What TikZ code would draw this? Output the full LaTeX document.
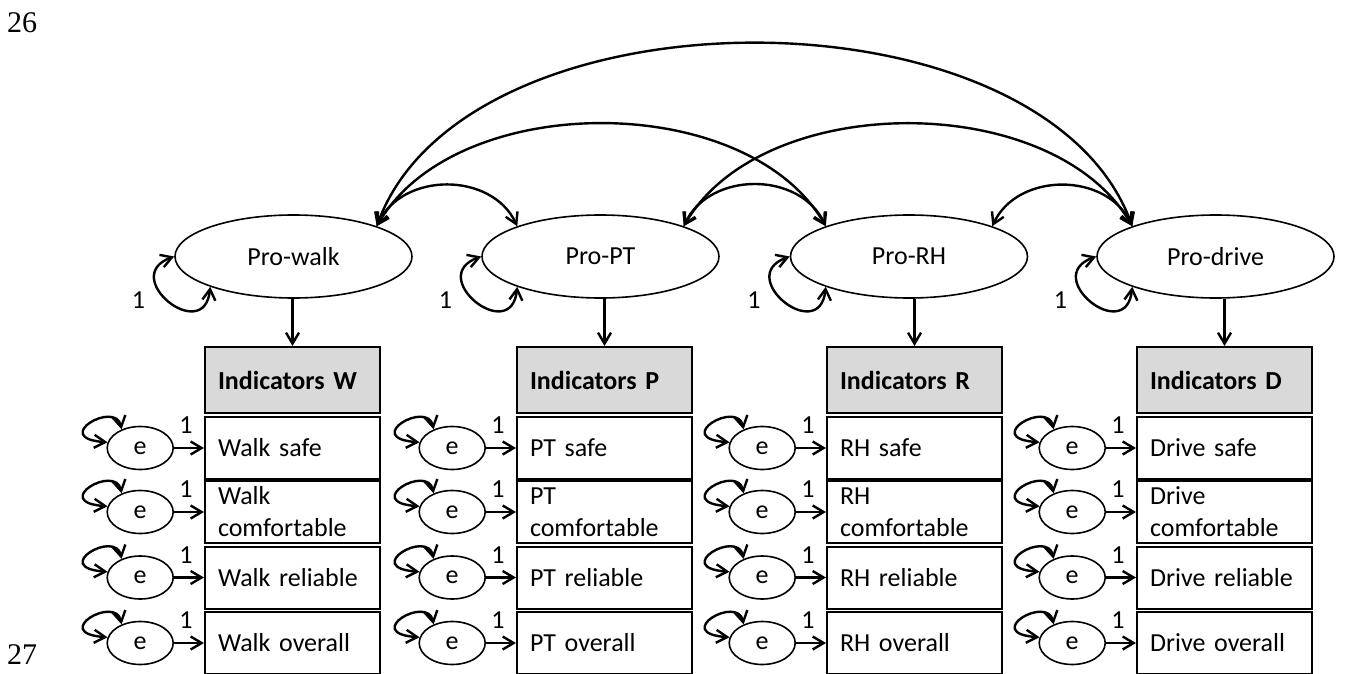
\documentclass[tikz,border=0pt]{standalone}
\usepackage{fontspec}
\setmainfont{Carlito}
\newfontfamily\pagefont{Liberation Serif}
\usetikzlibrary{shapes.geometric, arrows.meta, positioning, calc}

\tikzset{
    >={Straight Barb[length=11pt, width=13pt]},
    txt/.style={font=\fontsize{26}{32}\selectfont},
    latent/.style={txt, draw, ellipse, line width=1.6pt, minimum width=237pt, minimum height=83pt, inner sep=0pt},
    errvar/.style={txt, draw, ellipse, line width=1.6pt, minimum width=66pt, minimum height=43pt, inner sep=0pt},
    indbox/.style={txt, draw, line width=2pt, minimum width=175pt, minimum height=62pt, text width=149pt, inner xsep=13pt, inner ysep=0pt, align=left},
    header/.style={indbox, fill=black!15, minimum height=66pt, font=\bfseries\fontsize{26}{32}\selectfont},
    load/.style={->, line width=2.4pt},
    covar/.style={<->, line width=2.4pt},
    pagenum/.style={font=\pagefont\fontsize{30}{36}\selectfont, anchor=base west, inner sep=0pt}
}

\begin{document}
\begin{tikzpicture}[x=1pt, y=1pt]
    \useasboundingbox (0,0) rectangle (1346,673);
    \node[pagenum] (page26) at (7,640) {26};
    \node[pagenum] (page27) at (7,9) {27};
    % factors, headers and indicator rows
    \foreach \i/\lat/\lx/\bx/\mname/\ltr in {1/Pro-walk/293.5/292.5/Walk/W, 2/Pro-PT/600.5/604.5/PT/P, 3/Pro-RH/909/914.5/RH/R, 4/Pro-drive/1215.5/1224.5/Drive/D} {
        \node[latent] (lat\i) at (\lx,416.5) {\lat};
        \node[header] (hdr\i) at (\bx,293) {Indicators \ltr};
        \draw[load] (lat\i.south -| hdr\i.north) -- (hdr\i.north);
        \draw[covar] (lat\i.200) .. controls +(-6,-59) and +(-56,-20) .. (lat\i.180);
        \node[txt] (one\i) at ($(lat\i)+(-155,-44)$) {1};
        \foreach \r/\ry/\lbl in {1/225/{\mname{} safe}, 2/161/{\mname\\comfortable}, 3/95.5/{\mname{} reliable}, 4/30/{\mname{} overall}} {
            \node[indbox] (ind\i\r) at (\bx,\ry) {\lbl};
            \node[errvar, left=30pt of ind\i\r] (err\i\r) {e};
            \draw[load] (err\i\r) -- node[txt, above=11pt, inner sep=2pt, xshift=-3pt] {1} (ind\i\r);
            \draw[covar] (err\i\r.135) .. controls +(-6,30) and +(-58,4) .. (err\i\r.170);
        }
    }
    % covariances between the factors
    \foreach \a/\b/\o/\l in {1/2/65/1.1, 2/3/65/1.1, 3/4/65/1.1, 1/3/60/0.9, 2/4/60/0.9, 1/4/70/0.88}
        \draw[covar] (lat\a.20) to[out=\o, in=180-\o, looseness=\l] (lat\b.160);
\end{tikzpicture}
\end{document}
